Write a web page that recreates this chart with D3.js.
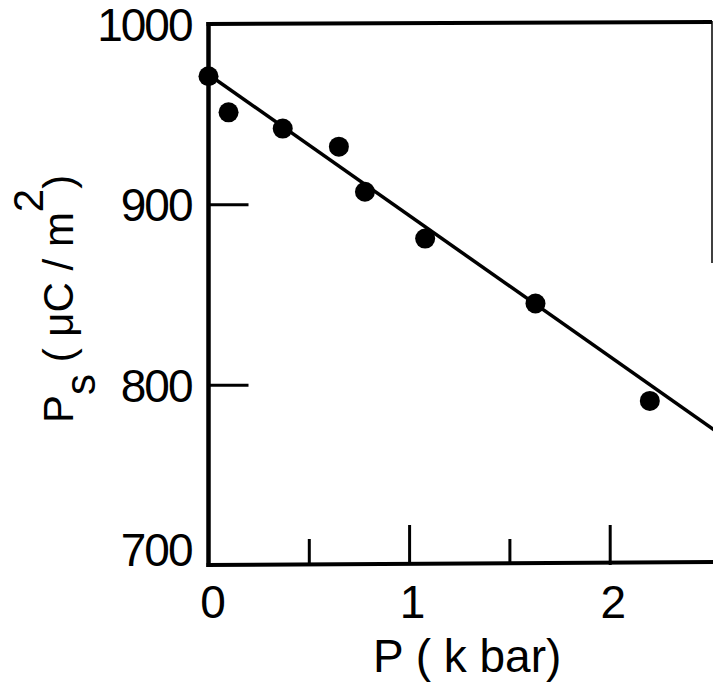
<!DOCTYPE html>
<html>
<head>
<meta charset="utf-8">
<script src="https://cdn.jsdelivr.net/npm/d3@7"></script>
<style>
  html, body { margin: 0; padding: 0; background: #fff; }
  svg { display: block; }
</style>
</head>
<body>
<div id="chart"></div>
<script>
// Data
const pressure = [0, 0.10, 0.37, 0.65, 0.78, 1.08, 1.63, 2.2];      // kbar
const polarization = [971, 951, 942, 932, 907, 881, 845, 791];   // μC/m^2

// straight fitted line
const fitPressure = [0, 2.52];
const fitPolarization = [972, 775];

// axis ticks
const yTicks = [700, 800, 900, 1000];
const xTicks = [0, 0.5, 1, 1.5, 2];
const xLabelTicks = [0, 1, 2];

// Dimensions
const width = 713;
const height = 684;
const plotLeft = 208.5, plotRight = 712, plotTop = 24, plotBottom = 565;

const x = d3.scaleLinear().domain([0, 2.51]).range([plotLeft, plotRight]);
const y = d3.scaleLinear().domain([700, 1000]).range([plotBottom, plotTop]);

const font = "'Liberation Sans', Arial, sans-serif";

const svg = d3.select("#chart").append("svg")
  .attr("width", width)
  .attr("height", height)
  .attr("font-family", font);

// Frame: left, top, bottom thick; right side only partly visible
const frame = svg.append("g").attr("stroke", "#000").attr("fill", "none");
frame.append("line").attr("x1", plotLeft).attr("x2", plotLeft).attr("y1", plotTop - 2).attr("y2", plotBottom + 2).attr("stroke-width", 4.5);
frame.append("line").attr("x1", plotLeft - 2).attr("x2", plotRight).attr("y1", plotTop).attr("y2", plotTop - 2).attr("stroke-width", 4);
frame.append("line").attr("x1", plotLeft - 2).attr("x2", width).attr("y1", plotBottom).attr("y2", plotBottom - 3).attr("stroke-width", 4);
frame.append("line").attr("x1", plotRight).attr("x2", plotRight).attr("y1", plotTop - 3).attr("y2", 263).attr("stroke-width", 1.5);

// Y axis (ticks point inward)
const yAxis = d3.axisLeft(y)
  .tickValues(yTicks)
  .tickSize(-40)
  .tickPadding(17)
  .tickFormat(d3.format("d"));

const gy = svg.append("g")
  .attr("transform", `translate(${plotLeft},0)`)
  .call(yAxis);
gy.select(".domain").remove();
gy.selectAll(".tick line").attr("stroke-width", 3)
  .attr("display", d => (d === 700 || d === 1000) ? "none" : null);
gy.selectAll(".tick text")
  .attr("font-size", 46)
  .attr("letter-spacing", -2)
  .attr("fill", "#000")
  .attr("dy", d => d === 700 ? "0em" : "0.36em");

// X axis (ticks point inward, minor ticks shorter)
const xAxis = d3.axisBottom(x)
  .tickValues(xTicks)
  .tickSize(-40)
  .tickPadding(20)
  .tickFormat(d => xLabelTicks.includes(d) ? d3.format("d")(d) : "");

const gx = svg.append("g")
  .attr("transform", `translate(0,${plotBottom})`)
  .call(xAxis);
gx.select(".domain").remove();
gx.selectAll(".tick line")
  .attr("stroke-width", 3)
  .attr("y2", d => d === 0 ? 0 : (xLabelTicks.includes(d) ? -40 : -26));
gx.selectAll(".tick text")
  .attr("font-size", 46)
  .attr("fill", "#000")
  .attr("dx", d => d === 0 ? 4 : 3);

// Fitted line
const line = d3.line()
  .x(d => x(d[0]))
  .y(d => y(d[1]));

svg.append("path")
  .datum(d3.zip(fitPressure, fitPolarization))
  .attr("fill", "none")
  .attr("stroke", "#000")
  .attr("stroke-width", 3.5)
  .attr("d", line);

// Points
svg.append("g")
  .selectAll("circle")
  .data(d3.zip(pressure, polarization))
  .join("circle")
  .attr("cx", d => x(d[0]))
  .attr("cy", d => y(d[1]))
  .attr("r", 10)
  .attr("fill", "#000");

// X title
svg.append("text")
  .attr("x", 373)
  .attr("y", 672)
  .attr("font-size", 46)
  .attr("fill", "#000")
  .text("P ( k bar)");

// Y title, rotated
const yTitle = svg.append("text")
  .attr("transform", "translate(73,423) rotate(-90)")
  .attr("font-size", 42)
  .attr("fill", "#000");
yTitle.append("tspan").text("P");
yTitle.append("tspan").attr("dy", 22).text("s");
yTitle.append("tspan").attr("dy", -22).text(" ( μC / m");
yTitle.append("tspan").attr("dy", -30).text("2");
yTitle.append("tspan").attr("dy", 30).text(")");
</script>
</body>
</html>
